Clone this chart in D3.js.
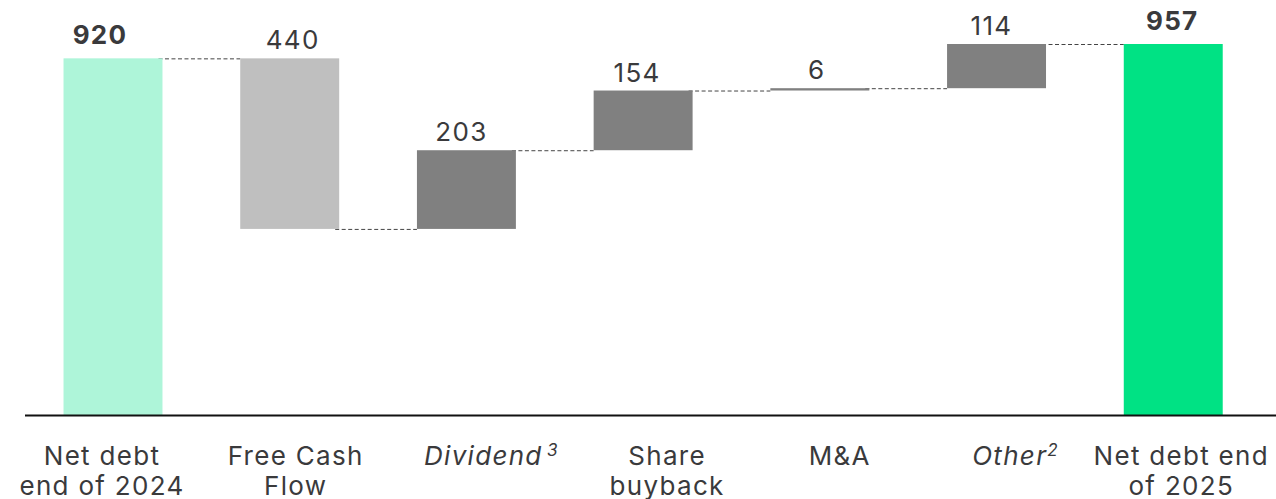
<!DOCTYPE html>
<html><head><meta charset="utf-8">
<script src="https://cdn.jsdelivr.net/npm/d3@7"></script>
<style>
html,body{margin:0;padding:0;background:#fff;}
text{font-family:Inter,"Open Sans",sans-serif;fill:#3a3a3c;}
</style></head>
<body>
<svg id="chart" width="1276" height="499"></svg>
<script>
const categories = ["Net debt end of 2024","Free Cash Flow","Dividend","Share buyback","M&A","Other","Net debt end of 2025"];
const labelLines = [["Net debt","end of 2024"],["Free Cash","Flow"],["Dividend"],["Share","buyback"],["M&A"],["Other"],["Net debt end","of 2025"]];
const labelSup = ["", "", "3", "", "", "2", ""];
const labelItalic = [false,false,true,false,false,true,false];
const values = [920, -440, 203, 154, 6, 114, 957];
const kinds = ["total","delta","delta","delta","delta","delta","total"];
const colors = ["#aef5d9","#bfbfbf","#808080","#808080","#808080","#808080","#00e284"];
const valueLabels = ["920","440","203","154","6","114","957"];
const boldLabel = [true,false,false,false,false,false,true];

// layout offsets (style, not data)
const catDx = [-11, 6, 25, 24, 20, 19, 8];
const valDx = [-13, 3, -5, -6, -3, -5, -1];

let run = 0;
const segs = values.map((v,i)=>{
  let lo, hi;
  if (kinds[i]==="total"){ lo=0; hi=v; run=v; }
  else { const s=run; run=run+v; lo=Math.min(s,run); hi=Math.max(s,run); }
  return {cat:categories[i], lo, hi, end:run, i};
});

const svg = d3.select("#chart");
const x = d3.scaleBand().domain(categories).range([24.65,1261.6]).paddingInner(0.44).paddingOuter(0.22);
const y = d3.scaleLinear().domain([0,957]).range([415,44]);

for (let i=0;i<segs.length-1;i++){
  const lvl = segs[i].end;
  svg.append("line")
    .attr("x1", x(categories[i])+x.bandwidth()-4).attr("x2", x(categories[i+1]))
    .attr("y1", y(lvl)+0.5).attr("y2", y(lvl)+0.5)
    .attr("stroke","#444").attr("stroke-width",1).attr("stroke-dasharray","4,2.5");
}

svg.selectAll("rect.bar").data(segs).enter().append("rect")
  .attr("x", d=>x(d.cat)).attr("width", x.bandwidth())
  .attr("y", d=>y(d.hi)).attr("height", d=>Math.max(2, y(d.lo)-y(d.hi)))
  .attr("fill", (d,i)=>colors[i]);

svg.append("line").attr("x1",25).attr("x2",1276).attr("y1",y(0)+0.5).attr("y2",y(0)+0.5)
  .attr("stroke","#111").attr("stroke-width",2);

svg.selectAll("text.val").data(segs).enter().append("text")
  .attr("x", d=>x(d.cat)+x.bandwidth()/2 + valDx[d.i])
  .attr("y", d=>y(d.hi) - (boldLabel[d.i]?14:9))
  .attr("text-anchor","middle")
  .attr("font-size", 26)
  .attr("letter-spacing", 1.3)
  .attr("font-weight", d=>boldLabel[d.i]?700:400)
  .text(d=>valueLabels[d.i]);

categories.forEach((c,i)=>{
  const cx = x(c)+x.bandwidth()/2 + catDx[i];
  const t = svg.append("text")
    .attr("x", cx)
    .attr("y", 465)
    .attr("text-anchor","middle")
    .attr("font-size",26)
    .attr("letter-spacing", 1.3)
    .attr("font-style", labelItalic[i]?"italic":"normal");
  labelLines[i].forEach((ln,j)=>{
    t.append("tspan").attr("x", cx).attr("dy", j===0?0:30).text(ln);
    if (j===0 && labelSup[i]){
      t.append("tspan").attr("dy",-9).attr("font-size",17)
        .text((i===2?"\u2009":"")+labelSup[i]);
    }
  });
});
</script>
</body></html>
